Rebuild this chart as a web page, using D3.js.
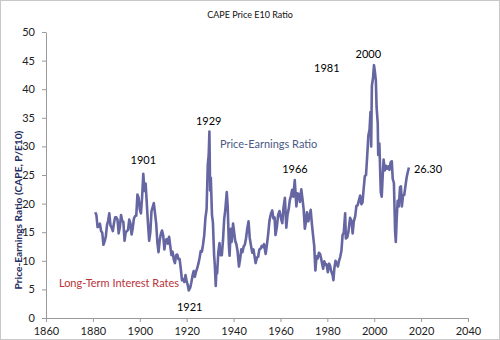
<!DOCTYPE html>
<html><head><meta charset="utf-8">
<script src="https://cdn.jsdelivr.net/npm/d3@7"></script>
<style>
html,body{margin:0;padding:0;background:#fff;}
svg{display:block;font-family:Lato, "Open Sans", sans-serif;}
</style></head>
<body><svg id="c" width="500" height="340"></svg>
<script>
const title = "CAPE Price E10 Ratio";
const yTitle = "Price-Earnings Ratio (CAPE, P/E10)";
const xTicks = [1860,1880,1900,1920,1940,1960,1980,2000,2020,2040];
const yTicks = [0,5,10,15,20,25,30,35,40,45,50];
const years = [
1881.0,1881.5,1882.0,1882.5,1883.0,1883.5,1884.0,1884.5,1885.0,1885.5,
1886.0,1886.5,1887.0,1887.5,1888.0,1888.5,1889.0,1889.5,1890.0,1890.5,
1891.0,1891.5,1892.0,1892.5,1893.0,1893.5,1894.0,1894.5,1895.0,1895.5,
1896.0,1896.5,1897.0,1897.5,1898.0,1898.5,1899.0,1899.5,1900.0,1900.5,
1901.0,1901.5,1902.0,1902.5,1903.0,1903.5,1904.0,1904.5,1905.0,1905.5,
1906.0,1906.5,1907.0,1907.5,1908.0,1908.5,1909.0,1909.5,1910.0,1910.5,
1911.0,1911.5,1912.0,1912.5,1913.0,1913.5,1914.0,1914.5,1915.0,1915.5,
1916.0,1916.5,1917.0,1917.5,1918.0,1918.5,1919.0,1919.5,1920.0,1920.5,
1920.9,1921.5,1922.0,1922.5,1923.0,1923.5,1924.0,1924.5,1925.0,1925.5,
1926.0,1926.5,1927.0,1927.5,1928.0,1928.5,1929.0,1929.4,1929.7,1930.0,
1930.3,1930.8,1931.2,1931.7,1932.0,1932.4,1932.7,1933.0,1933.5,1934.0,
1934.5,1935.0,1935.5,1936.0,1936.5,1937.1,1937.5,1938.0,1938.3,1938.8,
1939.2,1939.8,1940.3,1940.7,1941.2,1941.7,1942.3,1942.8,1943.3,1943.8,
1944.3,1944.8,1945.3,1945.8,1946.4,1946.9,1947.5,1948.0,1948.5,1949.4,
1950.0,1950.5,1951.0,1951.5,1952.0,1952.5,1953.0,1953.7,1954.2,1954.8,
1955.3,1955.9,1956.5,1957.0,1957.5,1957.9,1958.5,1959.0,1959.6,1960.3,
1960.8,1961.3,1961.9,1962.5,1963.0,1963.5,1964.0,1964.5,1965.0,1965.5,
1966.1,1966.8,1967.3,1967.9,1968.3,1968.9,1969.4,1969.9,1970.4,1970.9,
1971.3,1971.9,1972.4,1972.9,1973.4,1973.9,1974.4,1974.9,1975.4,1975.9,
1976.4,1976.9,1977.4,1977.9,1978.2,1978.7,1979.2,1979.7,1980.2,1980.8,
1981.2,1981.7,1982.3,1982.6,1983.0,1983.5,1984.0,1984.5,1985.0,1985.5,
1986.0,1986.5,1987.0,1987.6,1987.9,1988.5,1989.0,1989.7,1990.3,1990.8,
1991.3,1991.9,1992.4,1992.9,1993.5,1994.0,1994.5,1995.0,1995.5,1996.0,
1996.5,1997.0,1997.5,1998.0,1998.4,1998.7,1999.0,1999.5,1999.9,2000.3,
2000.7,2001.0,2001.5,2001.7,2002.2,2002.8,2003.2,2003.6,2004.0,2004.5,
2005.0,2005.5,2006.0,2006.5,2007.0,2007.5,2007.9,2008.4,2008.9,2009.2,
2009.6,2010.0,2010.5,2011.0,2011.4,2011.8,2012.3,2012.8,2013.3,2013.8,
2014.2,2014.8];
const cape = [
18.5,18.0,15.9,16.0,16.5,15.2,14.9,12.8,13.4,14.2,
16.2,17.0,18.3,16.2,15.8,15.2,16.6,17.6,17.6,17.2,
14.8,15.9,18.0,17.0,16.8,13.5,15.0,15.2,15.4,17.2,
16.6,14.6,15.7,17.4,17.8,17.9,21.6,21.0,19.0,18.3,
21.2,25.2,22.2,23.5,20.0,16.5,13.5,15.0,18.7,19.4,
20.1,18.3,16.5,13.2,11.5,13.6,14.7,15.3,14.4,12.0,
13.5,13.8,13.0,14.2,12.6,11.0,11.6,10.2,9.6,11.0,
11.1,10.3,10.3,8.6,6.6,6.8,6.3,7.5,6.4,5.7,
4.8,5.3,6.2,7.4,8.2,7.2,8.1,8.7,9.5,10.5,
11.7,11.6,12.9,14.5,17.5,19.0,26.8,28.5,32.6,22.3,
24.5,18.0,16.7,11.0,9.3,5.6,8.5,7.8,11.5,13.1,
11.0,11.0,13.6,17.3,19.0,22.0,19.5,12.8,10.9,15.6,
13.3,16.5,14.8,13.5,12.9,11.7,9.0,10.3,12.0,11.5,
12.5,12.8,13.9,15.5,16.9,14.0,12.5,11.4,12.0,9.6,
10.6,10.7,12.0,12.1,12.6,12.4,12.9,11.2,12.7,14.8,
17.0,18.2,18.8,17.4,17.6,14.5,16.0,18.0,18.7,17.3,
16.6,19.3,21.0,15.8,18.0,19.0,20.6,21.4,22.4,21.2,
24.1,19.5,21.8,21.6,20.3,22.5,20.8,19.0,15.6,16.8,
18.5,16.9,17.9,18.9,16.5,14.5,12.6,8.3,10.8,10.4,
11.4,11.2,10.3,9.2,8.6,9.9,9.3,9.4,8.0,9.5,
9.1,8.1,7.4,6.6,8.7,10.0,9.6,9.0,10.0,10.7,
11.7,14.5,14.9,18.3,13.9,14.1,15.1,17.5,17.0,14.8,
16.9,17.8,19.6,19.7,20.6,21.4,19.9,20.2,22.6,24.8,
25.0,28.3,31.9,32.9,36.0,30.0,40.6,42.0,44.2,43.0,
41.5,36.9,34.0,28.5,30.5,22.0,21.2,24.7,27.7,25.8,
26.6,26.1,26.5,25.9,27.2,27.4,24.3,23.6,15.2,13.3,
17.5,20.5,19.5,22.9,23.0,19.5,21.5,21.5,23.0,24.5,
25.3,26.3];
const notes = [
  {t:"1901", yr:1901.5, v:27.4, c:"#000"},
  {t:"1929", yr:1929.4, v:34.3, c:"#000"},
  {t:"1966", yr:1966.2, v:25.8, c:"#000"},
  {t:"1981", yr:1979.8, v:43.5, c:"#000"},
  {t:"2000", yr:1997.5, v:45.9, c:"#000"},
  {t:"1921", yr:1921.3, v:1.7, c:"#000"}
];

const svg = d3.select("#c");
const x = d3.scaleLinear().domain([1860,2040]).range([46,468]);
const y = d3.scaleLinear().domain([0,50]).range([318,32]);

svg.append("rect").attr("x",0.5).attr("y",0.5).attr("width",499).attr("height",339)
  .attr("fill","#fff").attr("stroke","#c8c8c8");

svg.append("text").attr("x",250).attr("y",18).attr("text-anchor","middle")
  .attr("font-size",9).attr("fill","#111").text(title);

const gx = svg.append("g").attr("transform","translate(0,318)")
  .call(d3.axisBottom(x).tickValues(xTicks).tickFormat(d3.format("d")).tickSize(4).tickSizeOuter(0));
const gy = svg.append("g").attr("transform","translate(46,0)")
  .call(d3.axisLeft(y).tickValues(yTicks).tickSize(4).tickSizeOuter(0));
[gx,gy].forEach(g=>{
  g.selectAll("path,line").attr("stroke","#9a9a9a");
  g.selectAll("text").attr("font-size",11).attr("fill","#222").attr("font-family","Lato, sans-serif");
});
gx.selectAll("text").attr("dy","0.95em");
gy.selectAll("text").attr("dx","-4");

svg.append("text").attr("transform","translate(22,210) rotate(-90)")
  .attr("text-anchor","middle").attr("font-size",10.2).attr("font-weight","bold")
  .attr("fill","#1f2e5e").text(yTitle);

const data = years.map((d,i)=>({yr:d, v:cape[i]}));
svg.append("path").datum(data)
  .attr("fill","none").attr("stroke","#6566a2").attr("stroke-width",2.6)
  .attr("stroke-linejoin","round")
  .attr("d", d3.line().x(d=>x(d.yr)).y(d=>y(d.v)));

notes.forEach(n=>{
  svg.append("text").attr("x",x(n.yr)).attr("y",y(n.v)).attr("text-anchor","middle")
    .attr("dominant-baseline","middle").attr("font-size",11).attr("fill",n.c).text(n.t);
});
svg.append("text").attr("x",x(2014.8)+5).attr("y",y(25.8)).attr("dominant-baseline","middle")
  .attr("font-size",11).attr("fill","#000").text("26.30");
svg.append("text").attr("x",x(1934.2)).attr("y",y(30.2)).attr("dominant-baseline","middle")
  .attr("font-size",11).attr("fill","#4b5888").text("Price-Earnings Ratio");
svg.append("text").attr("x",x(1865.5)).attr("y",y(5.9)).attr("dominant-baseline","middle")
  .attr("font-size",11).attr("fill","#b8333a").text("Long-Term Interest Rates");
</script></body></html>
